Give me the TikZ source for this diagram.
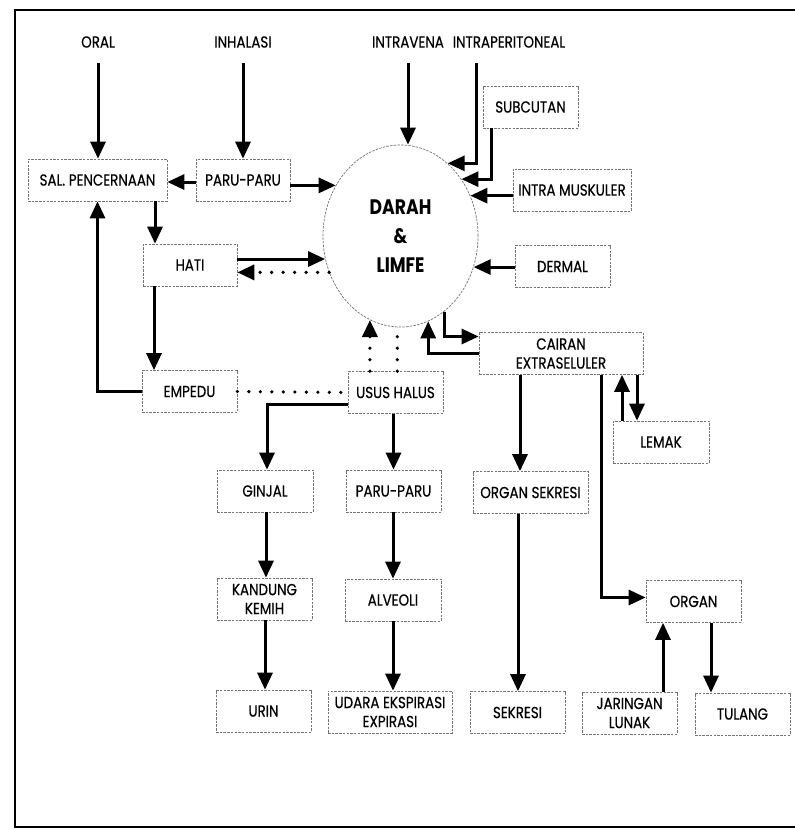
\documentclass[tikz,border=0pt]{standalone}
\usepackage{fontspec}
\setmainfont{Poppins}[FakeStretch=0.84,FakeBold=0.5]
\newfontfamily\bigbold{Poppins}[FakeStretch=0.82]
\usetikzlibrary{arrows.meta,shapes.geometric}
\begin{document}
\begin{tikzpicture}[x=1pt,y=-1pt,
  box/.style={draw=black!55, dash pattern=on 2.5pt off 1.2pt, line width=0.7pt,
    minimum height=42pt, inner sep=0pt, align=center,
    font=\fontsize{16}{19}\selectfont},
  lbl/.style={inner sep=0pt, font=\fontsize{16}{19}\selectfont},
  arr/.style={line width=3pt, -{Triangle[length=17pt,width=15pt]}},
  dl/.style={line width=3.6pt, line cap=round, dash pattern=on 0pt off 11.5pt},
  dotarr/.style={dl, -{Triangle[length=17pt,width=15pt]}}]
\useasboundingbox (0,0) rectangle (795,830);
\fill[white] (0,0) rectangle (795,830);
% frame
\draw[line width=2.5pt] (795,10) -- (15,10) -- (15,827) -- (795,827);

% top labels
\node[lbl] (oral)  at (98,42)  {ORAL};
\node[lbl] (inhal) at (243,42) {INHALASI};
\node[lbl] (iv)    at (408,42) {INTRAVENA};
\node[lbl] (ip)    at (509,42) {INTRAPERITONEAL};

% central ellipse
\node[ellipse, draw=black!55, dash pattern=on 2.5pt off 1.2pt, line width=0.7pt,
  minimum width=155pt, minimum height=182pt, inner sep=0pt, align=center,
  font=\bigbold\fontsize{21}{29}\selectfont\bfseries] (darah) at (400.5,236) {DARAH\\\&\\LIMFE};

% boxes
\node[box, minimum width=139pt] (sal)     at (97.5,180)  {SAL. PENCERNAAN};
\node[box, minimum width=94pt]  (paru1)   at (243,180)   {PARU-PARU};
\node[box, minimum width=94pt]  (hati)    at (190,265)   {HATI};
\node[box, minimum width=95pt]  (empedu)  at (189.5,391.5) {EMPEDU};
\node[box, minimum width=95pt]  (usus)    at (395.5,392.5) {USUS HALUS};
\node[box, minimum width=95pt]  (sub)     at (530.5,107) {SUBCUTAN};
\node[box, minimum width=118pt] (im)      at (572,190)   {INTRA MUSKULER};
\node[box, minimum width=95pt]  (dermal)  at (562.5,266.5) {DERMAL};
\node[box, minimum width=164pt] (cairan)  at (561,353.5) {CAIRAN\\EXTRASELULER};
\node[box, minimum width=96pt]  (lemak)   at (661,442)   {LEMAK};
\node[box, minimum width=115pt] (osek)    at (530.5,492.5) {ORGAN SEKRESI};
\node[box, minimum width=96pt]  (ginjal)  at (265,491)   {GINJAL};
\node[box, minimum width=95pt]  (paru2)   at (393.5,491) {PARU-PARU};
\node[box, minimum width=95pt]  (kandung) at (264.5,599) {KANDUNG\\KEMIH};
\node[box, minimum width=96pt]  (alveoli) at (393,600)   {ALVEOLI};
\node[box, minimum width=95pt]  (urin)    at (263.5,711) {URIN};
\node[box, minimum width=124pt] (udara)   at (390,712)   {UDARA EKSPIRASI\\EXPIRASI};
\node[box, minimum width=95pt]  (sekresi) at (517.5,712.5) {SEKRESI};
\node[box, minimum width=95pt]  (jaringan) at (629.5,713) {JARINGAN\\LUNAK};
\node[box, minimum width=95pt]  (tulang)  at (742.5,714) {TULANG};
\node[box, minimum width=95pt]  (organ)   at (693.5,601.5) {ORGAN};

% routes into blood
\draw[arr, shorten <=15pt] (oral.south) -- (oral.south |- sal.north);
\draw[arr, shorten <=15pt] (inhal.south) -- (inhal.south |- paru1.north);
\draw[arr, shorten <=15pt] (iv.south) -- (iv.south |- darah.north);
\draw[arr, shorten <=15pt] (ip.south -| 476,0) |- (darah.57);
\draw[arr] (sub.south -| 491,0) |- (darah.43);
\draw[arr] (im.west |- darah.30) -- (darah.30);
\draw[arr] (dermal.west |- darah.337) -- (darah.337);

% left part
\draw[arr] (paru1.west |- 0,182) -- (sal.east |- 0,182);
\draw[arr] (paru1.east |- darah.142) -- (darah.142);
\draw[arr] (sal.south -| 155,0) -- (hati.north -| 155,0);
\draw[arr] (hati.east |- darah.197) -- (darah.197);
\draw[dotarr] (darah.207) -- (hati.east |- darah.207);
\draw[arr] (hati.south -| 154,0) -- (empedu.north -| 154,0);
\draw[arr] (empedu.west) -| (sal.south);
\draw[dl] (empedu.east) -- (usus.west);
\draw[dotarr] (usus.north -| darah.250) -- (darah.250);
\draw[dl] (usus.north -| darah.268) -- (darah.268);

% usus halus branch
\draw[arr] ([yshift=-11.5pt]usus.west) -| (ginjal.north -| 267,0);
\draw[arr] (usus.south -| paru2.north) -- (paru2.north);
\draw[arr] (ginjal.south -| 266,0) -- (kandung.north -| 266,0);
\draw[arr] (kandung.south -| 265,0) -- (urin.north -| 265,0);
\draw[arr] (paru2.south -| 393,0) -- (alveoli.north -| 393,0);
\draw[arr] (alveoli.south -| 393,0) -- (udara.north -| 393,0);

% cairan extraseluler
\draw[arr] (darah.300) |- ([yshift=17pt]cairan.west);
\draw[arr] (cairan.west) -| (darah.288);
\draw[arr] (lemak.north -| 622,0) -- (cairan.south -| 622,0);
\draw[arr] (cairan.south -| 637,0) -- (lemak.north -| 637,0);
\draw[arr] (cairan.south -| 520,0) -- (osek.north -| 520,0);
\draw[arr] (osek.south -| 518,0) -- (sekresi.north -| 518,0);
\draw[arr] (cairan.south -| 601,0) |- ([yshift=4pt]organ.west);
\draw[arr] (jaringan.north -| 663,0) -- (organ.south -| 663,0);
\draw[arr] (organ.south -| 711,0) -- (tulang.north -| 711,0);
\end{tikzpicture}
\end{document}
